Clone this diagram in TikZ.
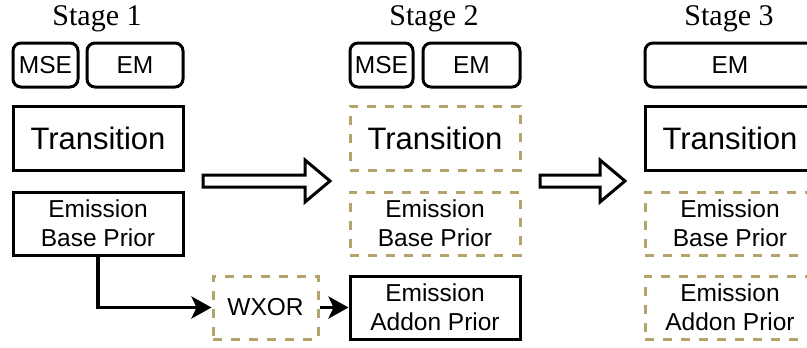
\documentclass[tikz,border=0pt]{standalone}
\usepackage{fontspec}
\setmainfont{Liberation Sans}
\newfontfamily\stagefont{Liberation Serif}
\usepackage{tikz}
\usetikzlibrary{arrows.meta, positioning}

\definecolor{priorgold}{RGB}{181,163,108}

\tikzset{
  blk/.style={draw, line width=3pt, inner sep=0pt, align=center,
    minimum width=170pt, minimum height=63pt,
    font=\fontsize{24.5}{29}\selectfont},
  frozen/.style={blk, draw=priorgold, dash pattern=on 9pt off 9pt},
  loss/.style={draw, line width=3pt, rounded corners=8pt, inner sep=0pt,
    minimum height=44pt, font=\fontsize{24.5}{29}\selectfont},
  stagetitle/.style={font=\stagefont\fontsize{30}{30}\selectfont, anchor=base},
  hollow/.style={draw, line width=3pt, fill=white, line join=miter},
  feed/.style={line width=3.5pt, -{Stealth[length=20pt, width=22pt, inset=5pt]}},
}

\begin{document}
\begin{tikzpicture}[x=1pt, y=-1pt]
        \useasboundingbox (0,0) rectangle (807,348);

        % stage 1
        \node[stagetitle] (st1) at (97,25) {Stage 1};
        \node[loss, minimum width=65pt] (mse1) at (45.5,65) {MSE};
        \node[loss, minimum width=96pt] (em1) at (135,65) {EM};
        \node[blk, minimum height=64pt, font=\fontsize{31}{34}\selectfont] (trans1) at (98,138) {Transition};
        \node[blk] (base1) at (98,223.5) {Emission\\Base Prior};
        \node[frozen, minimum width=105pt] (wxor) at (265.5,307.5) {WXOR};

        % stage 2
        \node[stagetitle] (st2) at (434,25) {Stage 2};
        \node[loss, minimum width=63pt] (mse2) at (381.5,65) {MSE};
        \node[loss, minimum width=97pt] (em2) at (471.5,65) {EM};
        \node[frozen, minimum height=64pt, font=\fontsize{31}{34}\selectfont] (trans2) at (435,138) {Transition};
        \node[frozen] (base2) at (435,223.5) {Emission\\Base Prior};
        \node[blk] (addon2) at (435,307.5) {Emission\\Addon Prior};

        % stage 3
        \node[stagetitle] (st3) at (729,25) {Stage 3};
        \node[loss, minimum width=170pt] (em3) at (730,65) {EM};
        \node[blk, minimum height=64pt, font=\fontsize{31}{34}\selectfont] (trans3) at (730,138) {Transition};
        \node[frozen] (base3) at (730,223.5) {Emission\\Base Prior};
        \node[frozen] (addon3) at (730,307.5) {Emission\\Addon Prior};

        % big arrows between stages
        \draw[hollow] (203,175) -- (305,175) -- (305,160) -- (330,181) -- (305,202) -- (305,187) -- (203,187) -- cycle;
        \draw[hollow] (540,175) -- (600,175) -- (600,160) -- (625,181) -- (600,202) -- (600,187) -- (540,187) -- cycle;

        % edges
        \draw[feed] (base1.south) |- (wxor.west);
        \draw[feed] (wxor.east) -- (addon2.west);

    \end{tikzpicture}
\end{document}
